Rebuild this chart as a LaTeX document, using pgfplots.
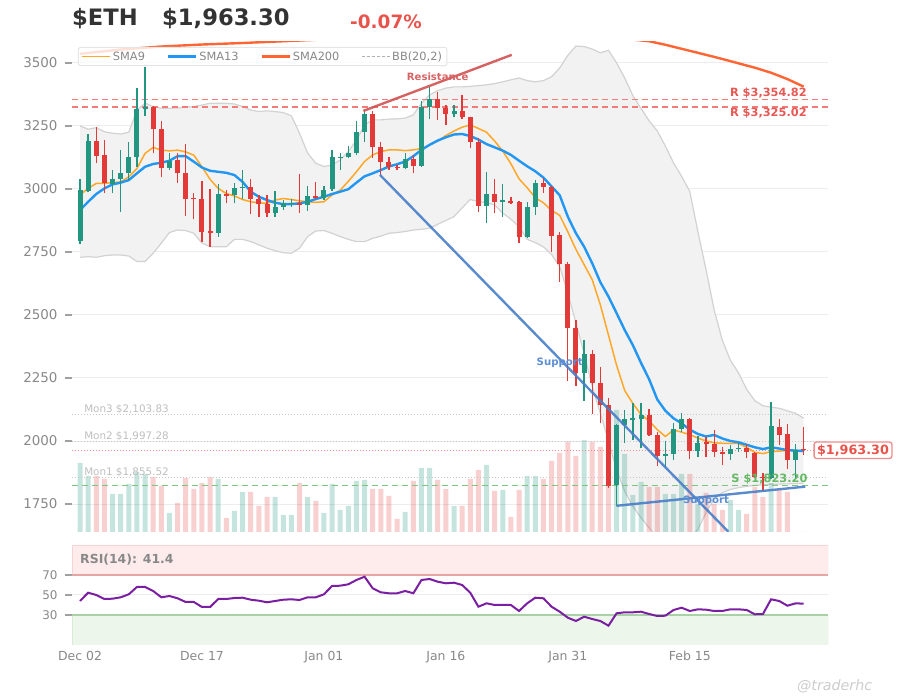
\documentclass[border=0pt]{standalone}
\usepackage{pgfplots}
\pgfplotsset{compat=1.18}
\usepackage{pgfplotstable}
\usepgfplotslibrary{fillbetween}
\usepackage{fontspec}
\setmainfont{DejaVu Sans}

\definecolor{cgreen}{RGB}{34,150,128}
\definecolor{cred}{RGB}{226,58,56}
\definecolor{sma9c}{RGB}{255,167,38}
\definecolor{sma13c}{RGB}{33,150,243}
\definecolor{sma200c}{RGB}{255,100,50}
\definecolor{bbfill}{RGB}{242,242,242}
\definecolor{bbedge}{RGB}{210,210,210}
\definecolor{gridc}{RGB}{236,236,236}
\definecolor{tickc}{RGB}{136,136,136}
\definecolor{resline}{RGB}{242,125,120}
\definecolor{reslab}{RGB}{232,88,84}
\definecolor{supline}{RGB}{125,198,125}
\definecolor{suplab}{RGB}{100,185,100}
\definecolor{trendred}{RGB}{210,82,82}
\definecolor{trendblue}{RGB}{72,126,200}
\definecolor{suptext}{RGB}{92,142,212}
\definecolor{monc}{RGB}{200,200,200}
\definecolor{monlab}{RGB}{190,190,190}
\definecolor{curline}{RGB}{242,140,140}
\definecolor{rsip}{RGB}{123,31,162}
\definecolor{titlec}{RGB}{51,51,51}
\definecolor{pctred}{RGB}{232,84,76}
\definecolor{obfill}{RGB}{254,236,237}
\definecolor{obedge}{RGB}{248,212,212}
\definecolor{obline}{RGB}{232,165,165}
\definecolor{osfill}{RGB}{236,246,235}
\definecolor{osedge}{RGB}{218,236,216}
\definecolor{osline}{RGB}{168,210,165}

\newcommand{\fs}[1]{\fontsize{#1}{#1}\selectfont}

% green candles: day open high low close volume
\pgfplotstableread{
d o h l c v
0 2795 3038 2782 2995 69
1 2993 3217 2986 3190 56
4 3019 3075 2982 3038 38
5 3038 3154 2910 3062 38
6 3062 3186 3035 3125 48
7 3125 3402 3088 3319 60
8 3318 3482 3289 3326 58
11 3085 3141 3077 3112 19
17 2827 3019 2811 2978 53
19 2976 3022 2943 3002 21
20 3003 3077 2962 3008 40
24 2903 2993 2890 2927 35
25 2927 2958 2916 2945 17
26 2940 2962 2929 2946 17
28 2935 3011 2914 2972 35
30 2966 3011 2958 2995 19
31 2998 3154 2993 3125 48
32 3122 3141 3075 3127 22
33 3125 3170 3121 3141 26
34 3141 3268 3134 3224 51
35 3225 3314 3187 3298 52
40 3082 3144 3078 3118 20
42 3091 3347 3088 3327 64
43 3327 3404 3279 3356 64
46 3296 3333 3284 3309 26
50 2934 3069 2864 2979 67
52 2950 3018 2888 2955 42
55 2811 2950 2806 2927 56
56 2927 3036 2897 3022 56
62 2268 2401 2159 2345 92
66 1825 2068 1742 2064 122
67 2064 2123 1991 2086 78
68 2085 2152 2004 2090 37
69 2086 2150 1971 2103 50
72 1941 2001 1898 1947 38
73 1947 2070 1925 2046 38
74 2046 2110 2037 2086 58
76 1962 2020 1935 1993 28
80 1947 1984 1925 1967 32
81 1967 1991 1958 1973 22
85 1855 2156 1850 2058 49
88 1925 1987 1852 1964.7 0
}\gc

% red candles
\pgfplotstableread{
d o h l c v
2 3190 3244 3101 3132 56
3 3133 3196 2985 3022 53
9 3325 3330 3143 3236 55
10 3236 3270 3048 3085 46
12 3114 3141 3025 3062 29
13 3062 3180 2892 2962 54
14 2964 2985 2879 2959 43
15 2962 3032 2789 2830 49
16 2832 2998 2771 2827 55
18 2980 2995 2943 2973 14
21 3006 3038 2899 2962 40
22 2962 2976 2890 2940 26
23 2942 2976 2890 2903 35
27 2946 3058 2906 2936 49
29 2972 3027 2962 2966 31
36 3298 3310 3122 3165 43
37 3165 3185 3056 3106 43
38 3106 3128 3075 3086 36
39 3088 3094 3075 3083 13
41 3118 3135 3062 3091 51
44 3356 3385 3274 3320 52
45 3320 3333 3254 3297 43
47 3309 3373 3276 3284 26
48 3284 3287 3161 3188 53
49 3188 3201 2910 2934 62
51 2979 3038 2903 2950 41
53 2953 2970 2940 2946 15
54 2947 2952 2784 2811 42
57 3022 3045 2983 3007 53
58 3007 3012 2749 2815 71
59 2817 2828 2632 2701 79
60 2701 2712 2239 2447 90
61 2447 2480 2218 2268 76
63 2345 2361 2107 2229 90
64 2229 2295 2070 2141 85
65 2141 2169 1812 1822 97
70 2102 2126 2020 2024 45
71 2024 2037 1901 1941 45
75 2086 2090 1927 1962 58
77 1995 2017 1938 1988 39
78 1990 2044 1938 1955 28
79 1955 1978 1905 1947 22
82 1973 1987 1931 1955 18
83 1954 1958 1852 1858 45
84 1858 1872 1802 1852 35
86 2057 2086 1984 2024 43
87 2026 2066 1888 1925 40
89 1967 2057 1945 1963.3 0
}\rc

% Bollinger upper/lower, SMA9, SMA13
\pgfplotstableread{
d u lo s9 s13
0 3250 2729 2976 2916
1 3237 2731 3002 2949
2 3243 2729 3022 2980
3 3227 2735 3022 3002
4 3221 2738 3025 3018
5 3218 2738 3028 3025
6 3225 2734 3048 3035
7 3313 2712 3081 3062
8 3340 2712 3141 3088
9 3327 2745 3165 3099
10 3320 2785 3154 3104
11 3320 2827 3151 3112
12 3321 2837 3154 3130
13 3325 2835 3147 3130
14 3327 2824 3134 3108
15 3333 2785 3088 3085
16 3340 2771 3038 3072
17 3340 2771 3002 3068
18 3340 2771 2982 3064
19 3337 2800 2972 3055
20 3327 2800 2958 3028
21 3313 2791 2949 2989
22 3307 2778 2945 2969
23 3310 2765 2943 2956
24 3307 2755 2956 2945
25 3303 2747 2962 2940
26 3290 2745 2958 2940
27 3221 2765 2953 2943
28 3142 2811 2949 2949
29 3102 2833 2947 2960
30 3089 2835 2949 2969
31 3095 2824 2976 2980
32 3115 2811 2995 2989
33 3148 2800 3030 2999
34 3194 2791 3068 3025
35 3254 2791 3109 3050
36 3274 2804 3135 3062
37 3274 2813 3148 3075
38 3277 2824 3155 3089
39 3278 2827 3155 3098
40 3281 2831 3152 3109
41 3294 2837 3155 3130
42 3340 2840 3160 3155
43 3373 2844 3175 3175
44 3390 2860 3190 3192
45 3400 2875 3212 3205
46 3405 2890 3230 3216
47 3405 2925 3245 3218
48 3407 2958 3254 3210
49 3410 2950 3240 3196
50 3413 2945 3225 3178
51 3418 2937 3190 3165
52 3425 2904 3150 3152
53 3433 2880 3100 3135
54 3440 2850 3040 3112
55 3430 2800 3005 3090
56 3425 2787 2965 3070
57 3430 2770 2945 3045
58 3445 2740 2915 3010
59 3480 2692 2895 2975
60 3530 2587 2830 2890
61 3567 2467 2760 2824
62 3565 2348 2700 2771
63 3555 2216 2640 2705
64 3540 2110 2540 2630
65 3550 2000 2420 2573
66 3500 1885 2300 2507
67 3440 1800 2200 2440
68 3370 1740 2149 2380
69 3320 1695 2105 2310
70 3270 1655 2080 2245
71 3230 1620 2045 2165
72 3170 1600 2018 2120
73 3103 1600 2044 2090
74 3050 1600 2035 2070
75 2990 1615 2025 2045
76 2830 1650 2012 2028
77 2680 1715 2000 2018
78 2520 1770 1993 2024
79 2400 1795 1991 2010
80 2320 1808 1991 2000
81 2270 1815 1990 1995
82 2205 1820 1975 1985
83 2160 1824 1955 1975
84 2140 1826 1950 1968
85 2134 1828 1958 1975
86 2130 1829 1960 1970
87 2120 1830 1962 1964
88 2110 1831 1962 1962
89 2091 1832 1961 1960
}\bands

\pgfplotstableread{
d r
0 44.0
1 52.3
2 50.0
3 46.0
4 46.3
5 47.7
6 50.7
7 58.0
8 58.0
9 54.0
10 47.7
11 49.0
12 46.7
13 43.0
14 43.0
15 38.0
16 38.0
17 46.0
18 46.0
19 47.0
20 47.3
21 45.3
22 44.3
23 42.7
24 44.0
25 45.3
26 45.7
27 45.0
28 47.7
29 47.7
30 50.7
31 59.0
32 59.3
33 60.7
34 65.0
35 68.3
36 56.7
37 52.7
38 51.7
39 51.7
40 54.0
41 51.7
42 65.0
43 66.0
44 63.3
45 61.7
46 62.3
47 60.0
48 52.3
49 38.3
50 41.7
51 40.0
52 40.0
53 40.0
54 34.0
55 41.7
56 47.3
57 46.7
58 38.3
59 33.3
60 27.3
61 24.0
62 28.3
63 26.0
64 24.0
65 19.3
66 31.7
67 32.7
68 32.7
69 33.3
70 31.0
71 29.0
72 29.3
73 35.0
74 37.3
75 34.0
76 35.7
77 35.3
78 34.0
79 34.0
80 35.7
81 35.7
82 35.0
83 30.7
84 31.0
85 45.7
86 44.0
87 39.3
88 41.6
89 41.4
}\rsi

\pgfplotsset{
  pricegeom/.style={at={(72bp,168bp)}, anchor=south west, scale only axis,
    width=756bp, height=490bp, xmin=-0.984, xmax=92, ymin=1639, ymax=3583},
}

\begin{document}
\begin{tikzpicture}

% ---------- price axis: grid, ticks, Bollinger band ----------
\begin{axis}[pricegeom,
  axis line style={draw=none},
  xtick=\empty,
  ytick={1750,2000,2250,2500,2750,3000,3250,3500},
  ytick pos=left,
  ymajorgrids, grid style={draw=gridc, line width=1bp},
  tick align=outside, major tick length=7bp,
  ytick style={draw=tickc!80, line width=1.6bp},
  yticklabel style={font=\fs{13.5}, text=tickc, xshift=-4bp},
  /pgf/number format/assume math mode=true,
  /pgf/number format/1000 sep={},
]
\addplot[name path=bbu, draw=none] table[x=d,y=u]{\bands};
\addplot[name path=bbl, draw=none] table[x=d,y=lo]{\bands};
\addplot[fill=bbfill, draw=none] fill between[of=bbu and bbl];
\addplot[draw=bbedge, line width=1.2bp] table[x=d,y=u]{\bands};
\addplot[draw=bbedge, line width=1.2bp] table[x=d,y=lo]{\bands};
\end{axis}

% ---------- volume ----------
\begin{axis}[pricegeom, ymin=0, ymax=490, hide axis]
\addplot[ybar, bar width=5bp, bar shift=0pt, fill=cgreen, fill opacity=0.26, draw=none] table[x=d,y=v]{\gc};
\addplot[ybar, bar width=5bp, bar shift=0pt, fill=cred, fill opacity=0.24, draw=none] table[x=d,y=v]{\rc};
\end{axis}

% ---------- price overlay ----------
\begin{axis}[pricegeom, hide axis,
  legend columns=4,
  legend image code/.code={\draw[#1] (0bp,0bp) -- (24bp,0bp); \path (0bp,0bp) -- (28bp,0bp);},
  legend style={at={(0.0079,0.9898)}, anchor=north west,
    draw=black!10, line width=1bp, fill=white, fill opacity=0.8,
    draw opacity=1, text opacity=1, rounded corners=2bp,
    font=\fs{11.4}, text=tickc, inner xsep=3bp, inner ysep=2bp,
    /tikz/every even column/.append style={column sep=20bp}},
]
% monthly levels and S/R levels
\addplot[forget plot, draw=monc, dash pattern=on 1bp off 2bp, line width=1bp] coordinates {(-1,2103.83) (92,2103.83)};
\addplot[forget plot, draw=monc, dash pattern=on 1bp off 2bp, line width=1bp] coordinates {(-1,1997.28) (92,1997.28)};
\addplot[forget plot, draw=monc, dash pattern=on 1bp off 2bp, line width=1bp] coordinates {(-1,1855.52) (92,1855.52)};
\addplot[forget plot, draw=curline, dash pattern=on 1bp off 2bp, line width=1bp] coordinates {(-1,1963.30) (92,1963.30)};
\addplot[forget plot, draw=resline, dash pattern=on 6bp off 4bp, line width=1.5bp] coordinates {(-1,3354.82) (92,3354.82)};
\addplot[forget plot, draw=resline, dash pattern=on 6bp off 4bp, line width=1.5bp] coordinates {(-1,3325.02) (92,3325.02)};
\addplot[forget plot, draw=supline, dash pattern=on 6bp off 4bp, line width=1.5bp] coordinates {(-1,1823.20) (92,1823.20)};

% moving averages
\addplot[draw=sma9c, line width=1.5bp] table[x=d,y=s9]{\bands};
\addlegendentry{SMA9}
\addplot[draw=sma13c, line width=2.4bp] table[x=d,y=s13]{\bands};
\addlegendentry{SMA13}
\addplot[draw=sma200c, line width=2.4bp] coordinates {
(0,3536) (5,3553) (10,3565) (15,3573) (20,3579) (25,3586) (30,3593) (40,3605)
(50,3612) (60,3610) (65,3602) (70,3586) (72,3572) (75,3548) (78,3524) (80,3507)
(83,3481) (85,3461) (87,3436) (89,3406)};
\addlegendentry{SMA200}
\addlegendimage{draw=black!30, dash pattern=on 3bp off 2bp, line width=0.8bp}
\addlegendentry{BB(20,2)}

% candles: wicks
\addplot[forget plot, draw=none, error bars/.cd, y dir=plus, y explicit,
  error bar style={draw=cgreen, line width=1.3bp}, error mark=none]
  table[x=d, y=l, y error plus expr=\thisrow{h}-\thisrow{l}]{\gc};
\addplot[forget plot, draw=none, error bars/.cd, y dir=plus, y explicit,
  error bar style={draw=cred, line width=1.3bp}, error mark=none]
  table[x=d, y=l, y error plus expr=\thisrow{h}-\thisrow{l}]{\rc};
% candles: bodies
\addplot[forget plot, draw=none, error bars/.cd, y dir=plus, y explicit,
  error bar style={draw=cgreen, line width=5bp}, error mark=none]
  table[x=d, y=o, y error plus expr=\thisrow{c}-\thisrow{o}]{\gc};
\addplot[forget plot, draw=none, error bars/.cd, y dir=plus, y explicit,
  error bar style={draw=cred, line width=5bp}, error mark=none]
  table[x=d, y=c, y error plus expr=\thisrow{o}-\thisrow{c}]{\rc};

% trend lines
\addplot[forget plot, draw=trendred, opacity=0.9, line width=2.4bp] coordinates {(34.85,3309.5) (53.1,3532)};
\addplot[forget plot, draw=trendblue, opacity=0.9, line width=2.4bp] coordinates {(36.9,3055.6) (79.74,1640)};
\addplot[forget plot, draw=trendblue, opacity=0.9, line width=2.4bp] coordinates {(66,1743) (89.2,1819)};

% labels
\node[font=\bfseries\fs{10.1}, text=trendred!90] at (axis cs:44,3444) {Resistance};
\node[font=\bfseries\fs{10.2}, text=suptext] at (axis cs:59,2310) {Support};
\node[font=\bfseries\fs{10.2}, text=suptext] at (axis cs:77,1762) {Support};
\node[anchor=east, inner sep=0, font=\bfseries\fs{11.4}, text=reslab] at (axis cs:89.4,3379) {R \$3,354.82};
\node[anchor=east, inner sep=0, font=\bfseries\fs{11.4}, text=reslab] at (axis cs:89.4,3302) {R \$3,325.02};
\node[anchor=east, inner sep=0, font=\bfseries\fs{11.4}, text=suplab] at (axis cs:89.5,1849) {S \$1,823.20};
\node[anchor=west, inner sep=0, font=\fs{10.4}, text=monlab] at (axis cs:0.5,2127) {Mon3 \$2,103.83};
\node[anchor=west, inner sep=0, font=\fs{10.4}, text=monlab] at (axis cs:0.5,2020) {Mon2 \$1,997.28};
\node[anchor=west, inner sep=0, font=\fs{10.4}, text=monlab] at (axis cs:0.5,1877) {Mon1 \$1,855.52};
\coordinate (pl) at (axis cs:92,1963.3);
\end{axis}

% current price tag
\node[draw=curline, line width=1.3bp, rounded corners=2.5bp, fill=white, text=pctred,
  font=\bfseries\fs{12.8}, inner xsep=3bp, inner ysep=2.5bp] at ([xshift=25bp]pl) {\$1,963.30};

% ---------- RSI ----------
\begin{axis}[at={(72bp,55bp)}, anchor=south west, scale only axis,
  width=756bp, height=100bp,
  xmin=-0.984, xmax=92, ymin=0, ymax=100,
  axis line style={draw=none},
  ytick={30,50,70}, ytick pos=left,
  xtick={0,15,30,45,60,75},
  xticklabels={Dec 02,Dec 17,Jan 01,Jan 16,Jan 31,Feb 15},
  xtick pos=bottom,
  tick align=outside, major tick length=7bp,
  ytick style={draw=tickc!80, line width=1.6bp},
  xtick style={draw=none},
  yticklabel style={font=\fs{12}, text=tickc, xshift=-4bp},
  xticklabel style={font=\fs{12.5}, text=tickc, yshift=4bp},
  /pgf/number format/assume math mode=true,
]
\addplot[fill=obfill, draw=obedge, line width=0.8bp] coordinates {(-0.984,70) (92,70) (92,100) (-0.984,100) (-0.984,70)};
\addplot[fill=osfill, draw=osedge, line width=0.8bp] coordinates {(-0.984,0) (92,0) (92,30) (-0.984,30) (-0.984,0)};
\addplot[draw=gridc, line width=1bp] coordinates {(-0.984,50) (92,50)};
\addplot[draw=obline, line width=1.2bp] coordinates {(-0.984,70) (92,70)};
\addplot[draw=osline, line width=1.2bp] coordinates {(-0.984,30) (92,30)};
\addplot[draw=rsip, line width=2bp] table[x=d,y=r]{\rsi};
\node[anchor=west, inner sep=0, font=\bfseries\fs{12.5}, text=tickc] at (axis cs:0,85) {RSI(14): 41.4};
\end{axis}

% ---------- title and watermark ----------
\node[anchor=base west, inner sep=0, font=\bfseries\fs{22.7}, text=titlec] at (72bp,674bp) {\$ETH};
\node[anchor=base west, inner sep=0, font=\bfseries\fs{22.7}, text=titlec] at (162bp,674bp) {\$1,963.30};
\node[anchor=base west, inner sep=0, font=\bfseries\fs{18.5}, text=pctred] at (350bp,671.7bp) {-0.07\%};
\node[anchor=base west, inner sep=0, font=\itshape\fs{14.3}, text=black!20] at (797bp,10bp) {@traderhc};

\pgfresetboundingbox
\path[use as bounding box] (0bp,0bp) rectangle (900bp,700bp);
\end{tikzpicture}
\end{document}
